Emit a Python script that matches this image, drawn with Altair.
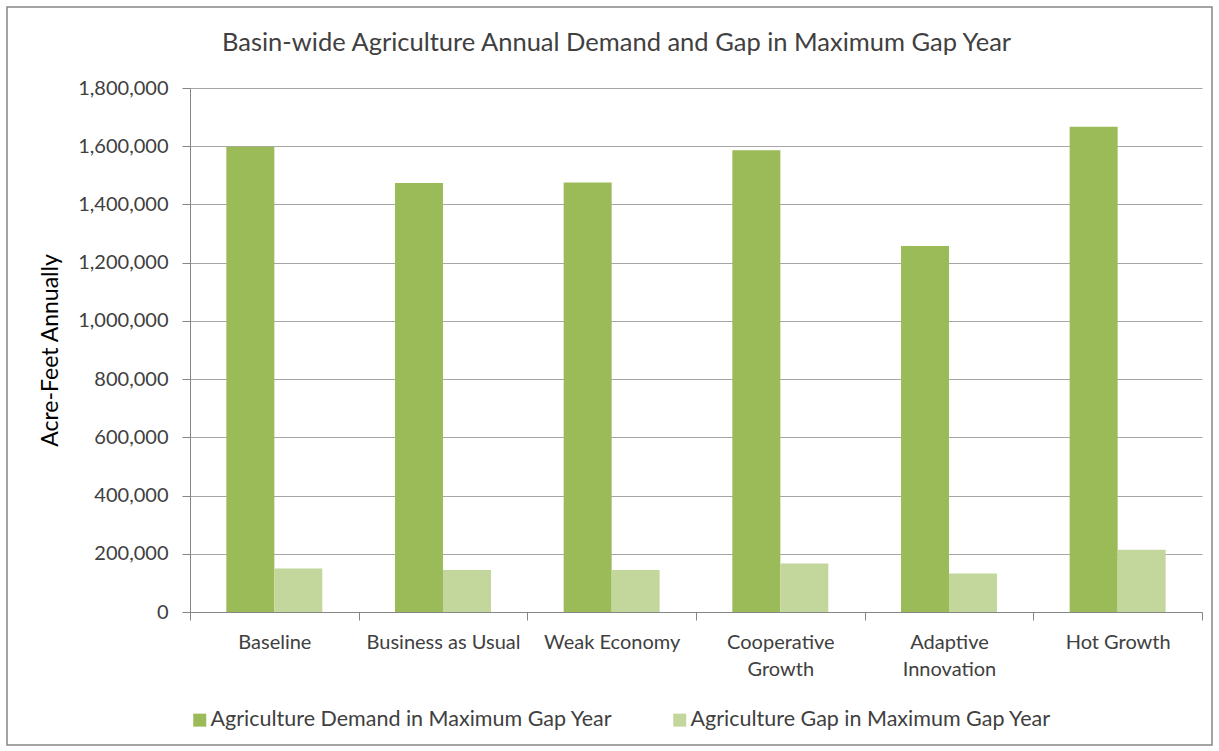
import altair as alt
import pandas as pd

title_text = "Basin-wide Agriculture Annual Demand and Gap in Maximum Gap Year"
categories = ["Baseline", "Business as Usual", "Weak Economy",
              "Cooperative Growth", "Adaptive Innovation", "Hot Growth"]
demand = [1598000, 1474000, 1475000, 1586000, 1257000, 1667000]
gap = [149000, 144000, 144000, 167000, 132000, 214000]
series_names = ["Agriculture Demand in Maximum Gap Year",
                "Agriculture Gap in Maximum Gap Year"]
colors = ["#9BBB59", "#C3D69B"]
y_ticks = [0, 200000, 400000, 600000, 800000, 1000000, 1200000, 1400000, 1600000, 1800000]

rows = []
for c, d, g in zip(categories, demand, gap):
    rows.append({"Scenario": c, "Series": series_names[0], "Value": d})
    rows.append({"Scenario": c, "Series": series_names[1], "Value": g})
df = pd.DataFrame(rows)

FONT = "Lato"
TXT = "#404040"

label_expr = ("datum.label == 'Cooperative Growth' ? ['Cooperative', 'Growth'] : "
              "datum.label == 'Adaptive Innovation' ? ['Adaptive', 'Innovation'] : datum.label")

bars = alt.Chart(df).mark_bar().encode(
    x=alt.X("Scenario:N", sort=categories,
            scale=alt.Scale(paddingInner=0, paddingOuter=0),
            axis=alt.Axis(title=None, labelAngle=0, tickBand="extent", tickSize=8,
                          labelPadding=12, labelExpr=label_expr, labelFontSize=20,
                          labelFont=FONT, labelColor=TXT, labelLineHeight=27,
                          labelLimit=300,
                          domainColor="#868686", tickColor="#868686", grid=False)),
    xOffset=alt.XOffset("Series:N", sort=series_names,
                        scale=alt.Scale(paddingInner=0, paddingOuter=0.757)),
    y=alt.Y("Value:Q", scale=alt.Scale(domain=[0, 1800000], nice=False),
            axis=alt.Axis(values=y_ticks, format=",.0f", title="Acre-Feet Annually",
                          tickSize=8, labelPadding=14, labelFontSize=20, labelFont=FONT,
                          labelColor=TXT, titleFont=FONT, titleFontSize=23,
                          titleFontWeight="normal", titleColor="#000000",
                          titlePadding=15, domainColor="#868686", tickColor="#868686",
                          gridColor="#A6A6A6", grid=True)),
    color=alt.Color("Series:N", sort=series_names,
                    scale=alt.Scale(domain=series_names, range=colors),
                    legend=alt.Legend(title=None, orient="none", legendX=-1, legendY=621,
                                      direction="horizontal", symbolType="square",
                                      symbolSize=169, symbolStrokeWidth=0,
                                      labelFont=FONT, labelFontSize=21.5, labelColor=TXT,
                                      labelLimit=500, columnPadding=56, labelOffset=0)),
)

frame = alt.Chart(pd.DataFrame({"k": [0]})).mark_rect(
    filled=False, stroke="#868686", strokeWidth=1.5
).encode(
    x=alt.value(-183), x2=alt.value(1022), y=alt.value(-81), y2=alt.value(657)
)

title = alt.Chart(pd.DataFrame({"k": [0]})).mark_text(
    text=title_text, align="left", baseline="alphabetic", font=FONT,
    fontSize=25.5, color=TXT
).encode(x=alt.value(32), y=alt.value(-37))

chart = alt.layer(frame, title, bars).properties(
    width=1012, height=524,
    autosize=alt.AutoSizeParams(type="none"),
    padding={"left": 190, "top": 88, "right": 17, "bottom": 139},
    background="white",
).configure_view(stroke=None)

chart.save("out.html", embed_options={"renderer": "svg", "actions": False})
